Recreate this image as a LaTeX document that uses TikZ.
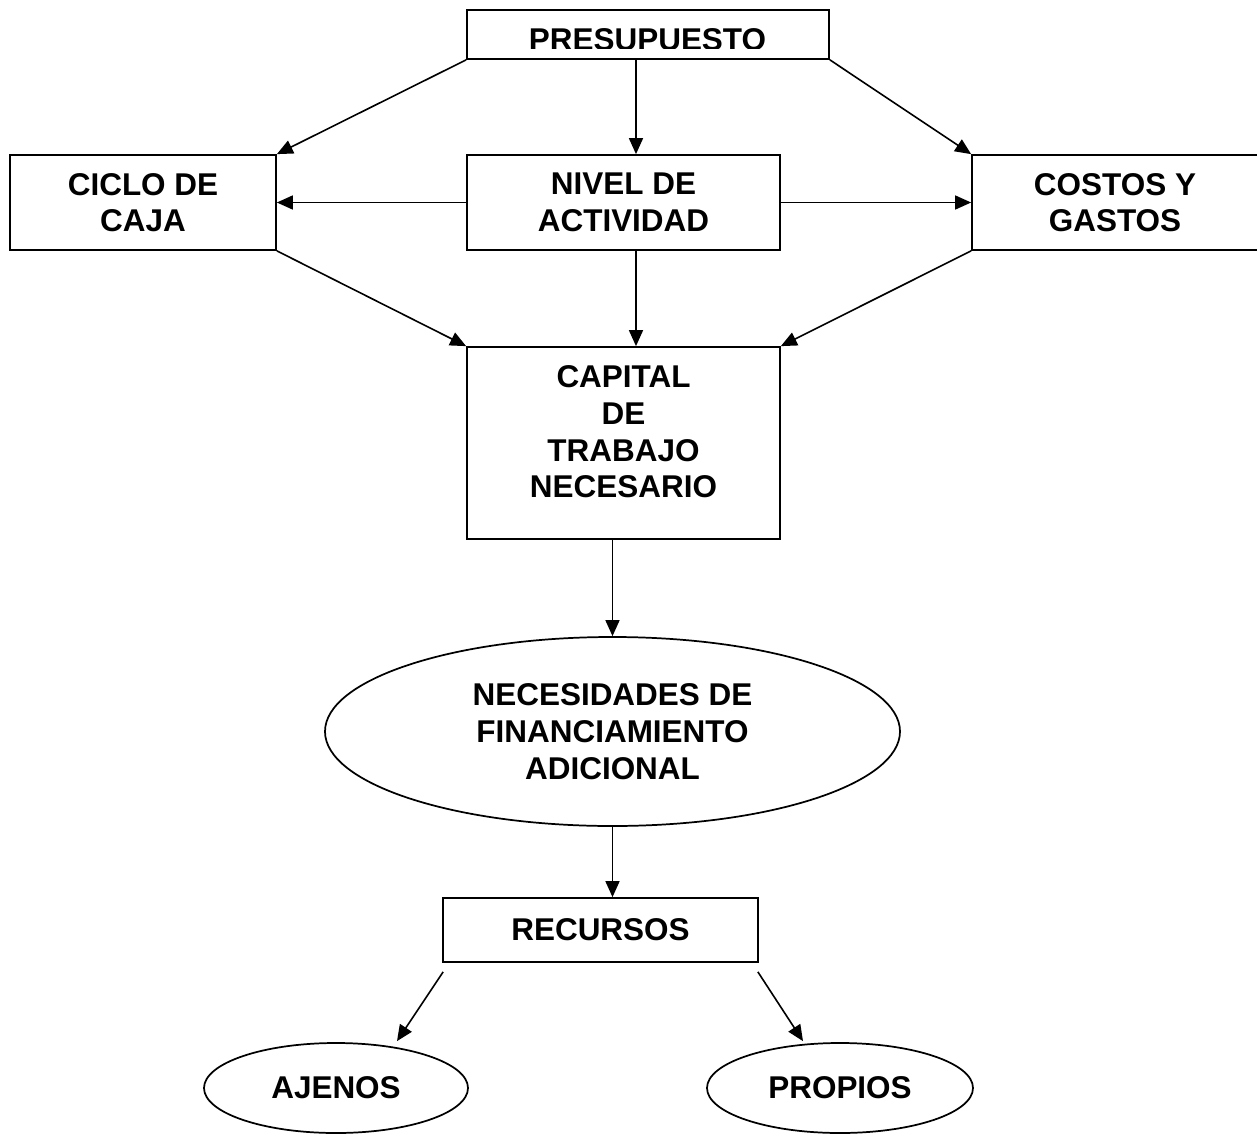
\documentclass[tikz,border=0pt]{standalone}
\usepackage{fontspec}
\setmainfont{Liberation Sans}
\usetikzlibrary{arrows.meta, shapes.geometric, calc}
\tikzset{>={Triangle[length=12pt, width=10.5pt]}}
\tikzset{
  caja/.style={draw, line width=1.3pt, rectangle, inner sep=0pt, align=center},
  ovalo/.style={draw, line width=1.3pt, ellipse, inner sep=0pt, align=center},
  flecha/.style={line width=1.2pt, ->},
}

\begin{document}
\begin{tikzpicture}[x=0.75pt, y=-0.75pt,
    every node/.style={font=\fontsize{23.6}{27.5}\selectfont\bfseries}]
    \useasboundingbox (0,0) rectangle (1257,1135);
    \coordinate (eje) at (636,0);
    \node[caja, minimum width=271.5pt, minimum height=36.75pt] (pres) at (648,34.5) {};
    \begin{scope}
        \clip (467,10) rectangle (829,48.3);
        \node[anchor=base] (prestxt) at (647.5,50.6) {PRESUPUESTO};
    \end{scope}
    \node[caja, minimum width=199.5pt, minimum height=71.25pt] (ciclo) at (143,202.5) {CICLO DE\\CAJA};
    \node[caja, minimum width=234.75pt, minimum height=71.25pt] (nivel) at (623.5,202.5) {NIVEL DE\\ACTIVIDAD};
    \node[caja, minimum width=214.5pt, minimum height=71.25pt] (costos) at (1115,202.5) {COSTOS Y\\GASTOS};
    \node[caja, minimum width=234.75pt, minimum height=144pt] (cap) at (623.5,443) {};
    \node[align=center] (captxt) at (623.5,432) {CAPITAL\\DE\\TRABAJO\\NECESARIO};
    \node[ovalo, minimum width=431.25pt, minimum height=141.75pt] (nec) at (612.5,731.5) {NECESIDADES DE\\FINANCIAMIENTO\\ADICIONAL};
    \node[caja, minimum width=236.25pt, minimum height=48pt] (rec) at (600.5,930) {RECURSOS};
    \node[ovalo, minimum width=198pt, minimum height=67.5pt] (aje) at (336,1088) {AJENOS};
    \node[ovalo, minimum width=199.5pt, minimum height=67.5pt] (pro) at (840,1088) {PROPIOS};
    \draw[flecha] (pres.south west) -- (ciclo.north east);
    \draw[flecha] (pres.south -| eje) -- (nivel.north -| eje);
    \draw[flecha] (pres.south east) -- (costos.north west);
    \draw[flecha] (nivel.west) -- (ciclo.east);
    \draw[flecha] (nivel.east) -- (costos.west);
    \draw[flecha] (ciclo.south east) -- (cap.north west);
    \draw[flecha] (nivel.south -| eje) -- (cap.north -| eje);
    \draw[flecha] (costos.south west) -- (cap.north east);
    \draw[flecha] (cap.south -| nec.north) -- (nec.north);
    \draw[flecha] (nec.south) -- (nec.south |- rec.north);
    \draw[flecha] ($(rec.south west)+(1,9)$) -- ($(aje.north)+(61,-1)$);
    \draw[flecha] ($(rec.south east)+(-1,9)$) -- ($(pro.north)+(-37,-1)$);
\end{tikzpicture}
\end{document}
